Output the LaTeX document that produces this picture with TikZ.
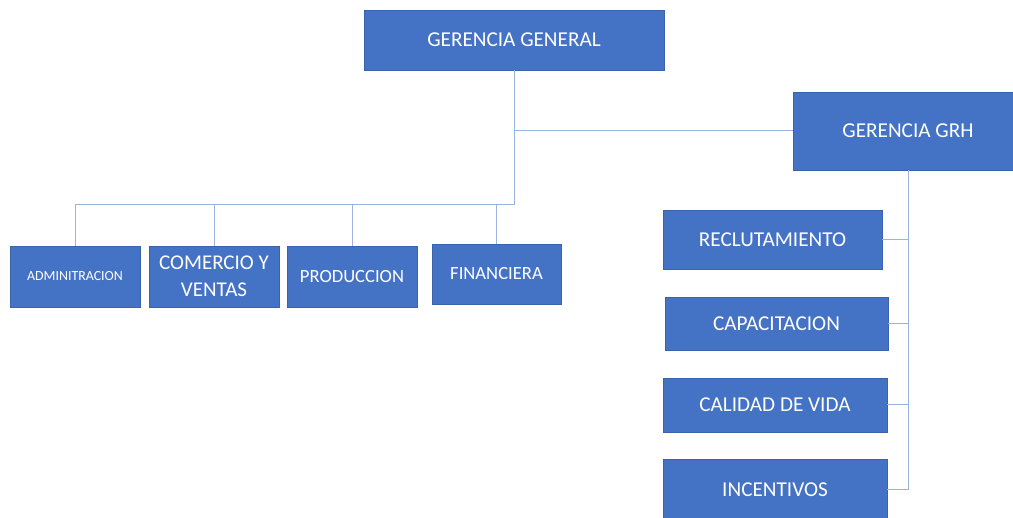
\documentclass[tikz,border=0pt]{standalone}
\usepackage{fontspec}
\setmainfont{Carlito}
\definecolor{boxfill}{HTML}{4472C4}
\definecolor{boxline}{HTML}{3A63AD}
\definecolor{connline}{HTML}{9AB4E2}
\begin{document}
\begin{tikzpicture}[x=1pt,y=-1pt,
  orgbox/.style={rectangle, fill=boxfill, draw=boxline, line width=0.7pt, text=white, inner sep=0pt, align=center},
  bigtext/.style={font=\fontsize{21.2}{25}\selectfont},
  midtext/.style={font=\fontsize{18.6}{22}\selectfont},
  conn/.style={draw=connline, line width=1pt}]
\clip (0,0) rectangle (1013,518);
\fill[white] (0,0) rectangle (1013,518);
% top
\node[orgbox, bigtext, minimum width=300pt, minimum height=60pt] (gg) at (514,40) {GERENCIA GENERAL};
\node[orgbox, bigtext, minimum width=230pt, minimum height=78pt] (grh) at (908,131) {GERENCIA GRH};
% bottom row
\node[orgbox, minimum width=130pt, minimum height=61pt, font=\fontsize{13.9}{16}\selectfont] (adm) at (75,276.5) {ADMINITRACION};
\node[orgbox, minimum width=130pt, minimum height=61pt, font=\fontsize{21}{27}\selectfont] (com) at (214,276.5) {COMERCIO Y\\VENTAS};
\node[orgbox, midtext, minimum width=130pt, minimum height=61pt] (pro) at (352,276.5) {PRODUCCION};
\node[orgbox, midtext, minimum width=129pt, minimum height=60pt] (fin) at (496.5,274) {FINANCIERA};
% right column
\node[orgbox, bigtext, minimum width=219pt, minimum height=59pt] (rec) at (772.5,239.5) {RECLUTAMIENTO};
\node[orgbox, bigtext, minimum width=223pt, minimum height=53pt] (cap) at (776.5,323.5) {CAPACITACION};
\node[orgbox, bigtext, minimum width=224pt, minimum height=54pt] (cal) at (775,405) {CALIDAD DE VIDA};
\node[orgbox, bigtext, minimum width=224pt, minimum height=62pt] (inc) at (775,490) {INCENTIVOS};
% connectors
\coordinate (bus) at (514,205);
\draw[conn] (gg.south) -- (bus);
\draw[conn] (gg.south) |- (grh.west);
\draw[conn] (bus) -| (adm.north);
\draw[conn] (bus) -| (com.north);
\draw[conn] (bus) -| (pro.north);
\draw[conn] (bus) -| (fin.north);
\draw[conn] (grh.south) |- (rec.east);
\draw[conn] (grh.south) |- (cap.east);
\draw[conn] (grh.south) |- (cal.east);
\draw[conn] (grh.south) |- (inc.east);
\end{tikzpicture}
\end{document}
